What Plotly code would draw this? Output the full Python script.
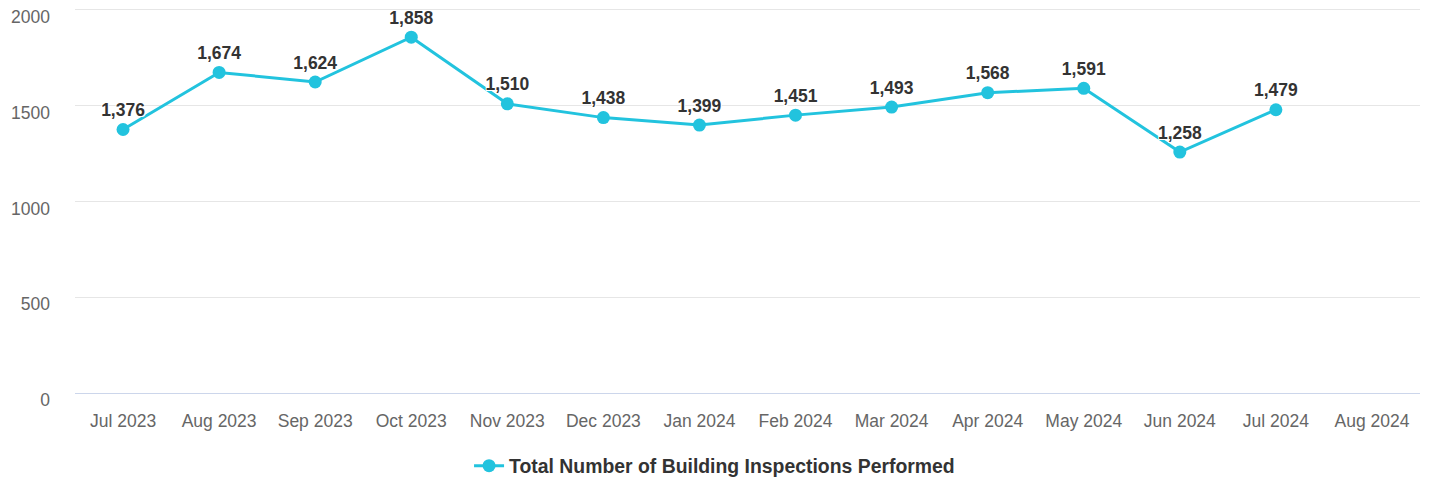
import plotly.graph_objects as go

months = ["Jul 2023", "Aug 2023", "Sep 2023", "Oct 2023", "Nov 2023", "Dec 2023",
          "Jan 2024", "Feb 2024", "Mar 2024", "Apr 2024", "May 2024", "Jun 2024",
          "Jul 2024", "Aug 2024"]
inspections = [1376, 1674, 1624, 1858, 1510, 1438, 1399, 1451, 1493, 1568, 1591, 1258,
               1479, None]
series_name = "Total Number of Building Inspections Performed"
y_ticks = [0, 500, 1000, 1500, 2000]

labels = [f"{v:,}" if v is not None else "" for v in inspections]

fig = go.Figure()
fig.add_trace(go.Scatter(
    x=months, y=inspections, name=series_name,
    mode="lines+markers+text",
    text=labels, textposition="top center",
    textfont=dict(family="Liberation Sans, Arial", size=17.5, color="#333333", weight="bold",
                  shadow="-1px -1px 0 #fff, 1px -1px 0 #fff, -1px 1px 0 #fff, 1px 1px 0 #fff"),
    line=dict(color="#22C3DE", width=3),
    marker=dict(color="#22C3DE", size=13),
    cliponaxis=False,
    hoverinfo="x+y",
))

fig.update_layout(
    width=1429, height=482,
    margin=dict(l=75, r=9, t=8, b=89),
    plot_bgcolor="#ffffff", paper_bgcolor="#ffffff",
    font=dict(family="Liberation Sans, Arial", size=17.5, color="#666666"),
    showlegend=True,
    legend=dict(orientation="h", x=0.4755, xanchor="center",
                yref="container", y=0.033, yanchor="middle",
                font=dict(size=19.4, color="#333333", weight="bold"),
                itemwidth=30),
    xaxis=dict(type="category", categoryorder="array", categoryarray=months,
               range=[-0.5, 13.5], showgrid=False, showline=True, linecolor="#ccd6eb",
               linewidth=1, ticks="", tickfont=dict(size=17.5, color="#666666"),
               ticklabelstandoff=12, zeroline=False, fixedrange=True, automargin=False),
    yaxis=dict(range=[0, 2010.4], tickvals=y_ticks, ticktext=[str(t) for t in y_ticks],
               showgrid=True, gridcolor="#e6e6e6", gridwidth=1, zeroline=False,
               showline=False, ticks="", tickfont=dict(size=17.5, color="#666666"),
               ticklabelstandoff=24, ticklabelshift=7, ticklabeloverflow="allow",
               fixedrange=True, automargin=False),
)

fig.write_html("out.html", config={"displayModeBar": False},
               post_script="document.body.style.margin='0';")
